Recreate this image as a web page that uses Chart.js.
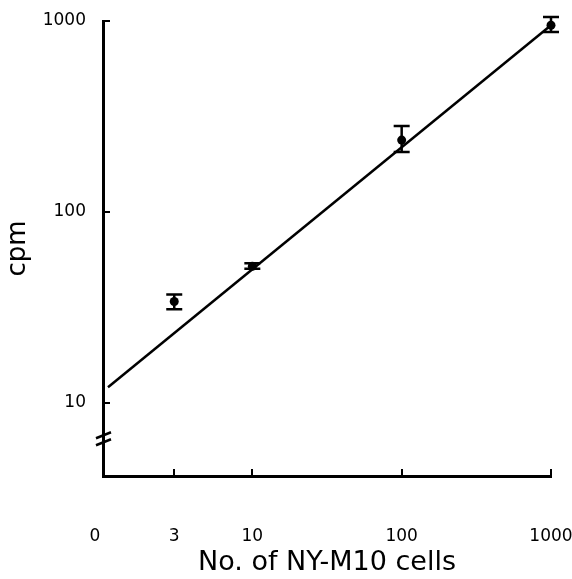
<!DOCTYPE html>
<html><head><meta charset="utf-8">
<script src="https://cdn.jsdelivr.net/npm/chart.js@4/dist/chart.umd.min.js"></script>
<style>html,body{margin:0;padding:0;background:#fff}canvas{display:block}</style>
</head><body>
<canvas id="c" width="572" height="579"></canvas>
<script>
const cellCounts = [3, 10, 100, 1000];
const cpmMean = [34, 52, 238, 950];
const cpmLow = [31, 50.5, 206, 875];
const cpmHigh = [37, 54, 282, 1050];
const fitX = [1.08, 1000];
const fitY = [12.1, 950];
const xTickValues = [1, 3, 10, 100, 1000];
const xTickLabels = ['0', '3', '10', '100', '1000'];
const yTickValues = [10, 100, 1000];
const yTickLabels = ['10', '100', '1000'];
const xTitle = 'No. of NY-M10 cells';
const yTitle = 'cpm';
const axisBreakValue = 6.5;

const FAMILY = 'DejaVu Sans';

const errorBars = {
  id: 'errorBars',
  afterDatasetsDraw(chart) {
    const {ctx, scales: {x, y}} = chart;
    ctx.save();
    ctx.strokeStyle = '#000';
    ctx.lineWidth = 2.5;
    cellCounts.forEach((c, i) => {
      const px = x.getPixelForValue(c);
      const yl = y.getPixelForValue(cpmLow[i]);
      const yh = y.getPixelForValue(cpmHigh[i]);
      ctx.beginPath();
      ctx.moveTo(px, yl); ctx.lineTo(px, yh);
      ctx.moveTo(px - 8, yl); ctx.lineTo(px + 8, yl);
      ctx.moveTo(px - 8, yh); ctx.lineTo(px + 8, yh);
      ctx.stroke();
    });
    // axis break marks
    const by = y.getPixelForValue(axisBreakValue);
    const ax = chart.chartArea.left;
    ctx.lineWidth = 2.5;
    [-3.5, 3.5].forEach(d => {
      ctx.beginPath();
      ctx.moveTo(ax - 7, by + d + 3);
      ctx.lineTo(ax + 8, by + d - 3);
      ctx.stroke();
    });
    ctx.restore();
  }
};

new Chart(document.getElementById('c'), {
  data: {
    datasets: [
      {
        type: 'line',
        data: fitX.map((v, i) => ({x: v, y: fitY[i]})),
        borderColor: '#000',
        borderWidth: 2.5,
        pointRadius: 0,
        fill: false,
        clip: false
      },
      {
        type: 'scatter',
        data: cellCounts.map((v, i) => ({x: v, y: cpmMean[i]})),
        backgroundColor: '#000',
        borderColor: '#000',
        borderWidth: 0,
        pointRadius: 4.5,
        clip: false
      }
    ]
  },
  options: {
    responsive: false,
    devicePixelRatio: 1,
    animation: false,
    layout: {padding: {left: 0, right: 21, top: 21, bottom: 0}},
    plugins: {legend: {display: false}, tooltip: {enabled: false}},
    scales: {
      x: {
        type: 'logarithmic',
        position: 'bottom',
        min: 1,
        max: 1000,
        afterBuildTicks(s) { s.ticks = xTickValues.map(v => ({value: v})); },
        afterFit(s) { s.height = 103; s.paddingLeft = 0; s.paddingRight = 0; },
        grid: {display: true, drawOnChartArea: false, drawTicks: true, tickLength: -7, color: '#000', lineWidth: 2},
        border: {display: true, color: '#000', width: 3},
        ticks: {
          autoSkip: false, maxRotation: 0, minRotation: 0, padding: 57, color: '#000',
          font: {family: FAMILY, size: 17},
          callback(v) {
            const i = xTickValues.indexOf(v);
            const t = i >= 0 ? xTickLabels[i] : '';
            return i === 0 ? t + '   ' : t;
          }
        },
        title: {display: true, text: xTitle, color: '#000', font: {family: FAMILY, size: 27}, padding: {top: 0, bottom: 0}}
      },
      y: {
        type: 'logarithmic',
        position: 'left',
        min: 4.15,
        max: 1000,
        afterBuildTicks(s) { s.ticks = yTickValues.map(v => ({value: v})); },
        afterFit(s) { s.width = 103; s.paddingTop = 0; s.paddingBottom = 0; },
        grid: {display: true, drawOnChartArea: false, drawTicks: true, tickLength: -7, color: '#000', lineWidth: 2},
        border: {display: true, color: '#000', width: 3},
        ticks: {
          autoSkip: false, padding: 24, color: '#000',
          font: {family: FAMILY, size: 17},
          callback(v) {
            const i = yTickValues.indexOf(v);
            return i >= 0 ? yTickLabels[i] : '';
          }
        },
        title: {display: true, text: yTitle, color: '#000', font: {family: FAMILY, size: 26}, padding: {top: 2.5, bottom: 0}}
      }
    }
  },
  plugins: [errorBars]
});
</script>
</body></html>
